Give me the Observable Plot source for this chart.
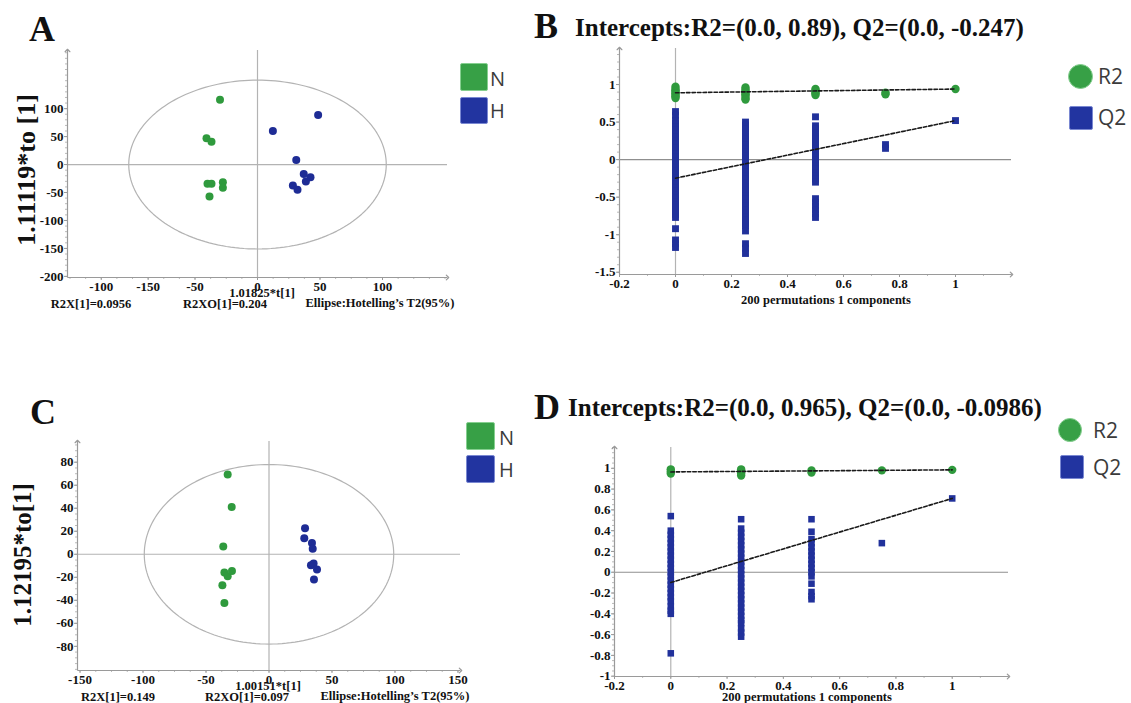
<!DOCTYPE html>
<html>
<head>
<meta charset="utf-8">
<script src="https://cdn.jsdelivr.net/npm/d3@7"></script>
<script src="https://cdn.jsdelivr.net/npm/@observablehq/plot@0.6"></script>
<style>
  html, body { margin: 0; padding: 0; background: #fff; }
  #fig { position: relative; width: 1131px; height: 703px; overflow: hidden; background: #fff;
         font-family: "Liberation Serif", "Times New Roman", serif; }
  .panel { position: absolute; }
  .panel svg { max-width: none !important; background: transparent !important; }
  .panel svg text { font-family: "Liberation Serif", "Times New Roman", serif !important; font-weight: bold !important;
         font-size: 13px !important; }
  .t { position: absolute; white-space: nowrap; font-weight: bold; color: #111; line-height: 1;
       transform: translate(-50%, -50%); }
  .tl { position: absolute; white-space: nowrap; font-weight: bold; color: #111; line-height: 1;
       transform: translate(0, -50%); }
  .rot { position: absolute; white-space: nowrap; font-weight: bold; color: #111; line-height: 1;
       transform: translate(-50%, -50%) rotate(-90deg); }
  .leg { position: absolute; white-space: nowrap; line-height: 1; color: #3b3b3b;
       font-family: "Open Sans", "Noto Sans", sans-serif; font-size: 20px; transform: translate(0, -50%); }
  .sw { position: absolute; box-sizing: border-box; border-radius: 2px; }
</style>
</head>
<body>
<div id="fig"></div>
<script>
// ---------------- data ----------------
const groups = ["N", "H"];
const groupColors = ["#2f9a3d", "#1e2c95"];

// Panel A scores (t[1], to[1])
const scoreA_N_t  = [-30, -40.8, -36.8, -40, -36.8, -27.7, -27.7, -38.4];
const scoreA_N_to = [116, 47, 41, -34.5, -34.5, -31.5, -41.7, -57];
const scoreA_H_t  = [48.5, 12.3, 31, 37, 42.4, 38.7, 28.3, 32];
const scoreA_H_to = [88.7, 60, 8.3, -16.7, -22.6, -30.4, -37.5, -45];
const ellipseA = [103, 151];            // Hotelling T2 semi-axes (t, to)
const xTicksA = [-125, -87.5, -50, 0, 50, 100];
const xTickLabelsA = ["-100", "-150", "-50", "0", "50", "100"];
const yTicksA = [-200, -150, -100, -50, 0, 50, 100];

// Panel C scores
const scoreC_N_t  = [-32.8, -29.6, -36.3, -35.4, -32.8, -29.4, -37, -35.4];
const scoreC_N_to = [69.3, 41.1, 6.7, -15.9, -19.1, -14.5, -27, -42.3];
const scoreC_H_t  = [28.6, 28, 34.1, 34.7, 33.3, 35.4, 38.1, 35.7];
const scoreC_H_to = [22.6, 13.9, 9.9, 4.9, -9.6, -8.1, -13.3, -22];
const ellipseC = [99, 78];
const xTicksC = [-150, -100, -50, 0, 50, 100, 150];
const xTickLabelsC = ["-150", "-100", "-50", "0", "50", "100", "150"];
const yTicksC = [-80, -60, -40, -20, 0, 20, 40, 60, 80];

// Permutation tests (200 permutations, 1 component)
const permX = [0, 0.25, 0.5, 0.75, 1];
const r2B = [
  [0.97, 0.94, 0.92, 0.9, 0.88, 0.86, 0.84, 0.82],
  [0.96, 0.93, 0.91, 0.89, 0.87, 0.85, 0.82, 0.8],
  [0.94, 0.92, 0.9, 0.88, 0.86],
  [0.89, 0.87],
  [0.94]
];
const q2B = [
  [0.64, 0.59, 0.52, 0.48, 0.43, 0.39, 0.34, 0.3, 0.25, 0.21, 0.16, 0.12, 0.07, 0.03, -0.02, -0.06, -0.11, -0.15,
   -0.2, -0.24, -0.29, -0.33, -0.38, -0.42, -0.47, -0.51, -0.56, -0.6, -0.65, -0.69, -0.73, -0.77, -0.92, -1.07, -1.12, -1.17],
  [0.5, 0.46, 0.41, 0.37, 0.32, 0.28, 0.23, 0.19, 0.14, 0.1, 0.05, 0.01, -0.04, -0.08, -0.13, -0.17, -0.22, -0.26,
   -0.31, -0.35, -0.4, -0.44, -0.49, -0.53, -0.58, -0.62, -0.67, -0.71, -0.76, -0.8, -0.85, -0.88, -0.95, -1.12, -1.18, -1.25],
  [0.57, 0.45, 0.41, 0.36, 0.32, 0.27, 0.23, 0.18, 0.14, 0.09, 0.05, 0.0, -0.04, -0.09, -0.13, -0.18, -0.22, -0.26, -0.3,
   -0.52, -0.57, -0.62, -0.67, -0.72, -0.77],
  [0.2, 0.15],
  [0.52]
];
const interceptsB = { R2: 0.89, Q2: -0.247 };
const yTicksB = [-1.5, -1, -0.5, 0, 0.5, 1];

const r2D = [
  [0.99, 0.97, 0.95],
  [0.99, 0.97, 0.95, 0.93],
  [0.98, 0.96],
  [0.98],
  [0.985]
];
const q2D = [
  [0.54, 0.4, 0.36, 0.32, 0.28, 0.24, 0.2, 0.16, 0.12, 0.08, 0.04, 0.0, -0.04, -0.08, -0.12, -0.16, -0.2, -0.24,
   -0.28, -0.33, -0.37, -0.4, -0.78],
  [0.51, 0.42, 0.38, 0.34, 0.3, 0.26, 0.22, 0.18, 0.14, 0.1, 0.06, 0.02, -0.02, -0.06, -0.1, -0.14, -0.18, -0.22,
   -0.26, -0.3, -0.34, -0.38, -0.42, -0.46, -0.49, -0.54, -0.58, -0.62],
  [0.51, 0.39, 0.32, 0.28, 0.24, 0.2, 0.16, 0.12, 0.08, 0.04, 0.0, -0.04, -0.11, -0.19, -0.23, -0.26],
  [0.28],
  [0.71]
];
const interceptsD = { R2: 0.965, Q2: -0.0986 };
const yTicksD = [-1, -0.8, -0.6, -0.4, -0.2, 0, 0.2, 0.4, 0.6, 0.8, 1];
const xTicksPerm = [-0.2, 0, 0.2, 0.4, 0.6, 0.8, 1];

const r2Color = "#2f9a3d";
const q2Color = "#21319b";

// ---------------- helpers ----------------
const fig = document.getElementById("fig");
const SERIF = '"Liberation Serif", "Times New Roman", serif';
const AXIS = "#9a9a9a";

function addPanel(svg, left, top, w, h) {
  const d = document.createElement("div");
  d.className = "panel";
  Object.assign(d.style, { left: left + "px", top: top + "px", width: w + "px", height: h + "px" });
  d.appendChild(svg);
  fig.appendChild(d);
}
function addText(text, x, y, cls, size, extra = {}) {
  const d = document.createElement("div");
  d.className = cls;
  d.textContent = text;
  Object.assign(d.style, { left: x + "px", top: y + "px", fontSize: size + "px" }, extra);
  fig.appendChild(d);
}
function addSwatch(x, y, w, h, fill, border, radius) {
  const d = document.createElement("div");
  d.className = "sw";
  Object.assign(d.style, { left: x + "px", top: y + "px", width: w + "px", height: h + "px",
    background: fill, border: "1.5px solid " + border, borderRadius: radius || "2px" });
  fig.appendChild(d);
}
const fmt = d => String(d);
function rangeTicks(lo, hi, step) { // positions for minor tick marks only
  const out = [];
  for (let i = Math.ceil(lo / step); i * step <= hi + 1e-9; i++) out.push(+(i * step).toFixed(6));
  return out;
}

function axesMarks(xDomain, yDomain, xTicks, xFormat, yTicks, xMinorStep, yMinorStep) {
  return [
    Plot.axisX({ ticks: rangeTicks(xDomain[0], xDomain[1], xMinorStep), tickSize: 2, fill: "none", label: null, stroke: "#bbb" }),
    Plot.axisY({ ticks: rangeTicks(yDomain[0], yDomain[1], yMinorStep), tickSize: 2, fill: "none", label: null, stroke: "#bbb" }),
    Plot.axisX({ ticks: xTicks, tickSize: 3, tickPadding: 1, tickFormat: xFormat, label: null, stroke: AXIS, fill: "#111" }),
    Plot.axisY({ ticks: yTicks, tickSize: 3, tickPadding: 1, tickFormat: fmt, label: null, stroke: AXIS, fill: "#111" }),
    Plot.link([xDomain], { x1: d => d[0], x2: d => d[1], y1: () => yDomain[0], y2: () => yDomain[0],
      stroke: AXIS, strokeWidth: 1.2, markerEnd: "arrow" }),
    Plot.link([yDomain], { x1: () => xDomain[0], x2: () => xDomain[0], y1: d => d[0], y2: d => d[1],
      stroke: AXIS, strokeWidth: 1.2, markerEnd: "arrow" })
  ];
}

function scorePlot(c) {
  const rows = [
    ...c.nT.map((t, i) => ({ t, to: c.nTo[i], group: "N" })),
    ...c.hT.map((t, i) => ({ t, to: c.hTo[i], group: "H" }))
  ];
  const ell = d3.range(0, 361, 2).map(a => ({
    t: c.ellipse[0] * Math.cos(a * Math.PI / 180),
    to: c.ellipse[1] * Math.sin(a * Math.PI / 180)
  }));
  return Plot.plot({
    width: c.w, height: c.h,
    marginTop: c.m[0], marginRight: c.m[1], marginBottom: c.m[2], marginLeft: c.m[3],
    x: { domain: c.xDomain }, y: { domain: c.yDomain },
    color: { domain: groups, range: groupColors },
    style: { fontFamily: SERIF, fontSize: "13px", fontWeight: "bold", color: "#111", background: "transparent", overflow: "visible" },
    marks: [
      Plot.ruleY([0], { stroke: "#b3b3b3", strokeWidth: 1.2 }),
      Plot.ruleX([0], { stroke: "#b3b3b3", strokeWidth: 1.2 }),
      Plot.line(ell, { x: "t", y: "to", stroke: "#b3b3b3", strokeWidth: 1.2 }),
      ...axesMarks(c.xDomain, c.yDomain, c.xTicks, d => c.xLabels[c.xTicks.indexOf(d)], c.yTicks, c.xMinor, c.yMinor),
      Plot.dot(rows, { x: "t", y: "to", fill: "group", r: 4 })
    ]
  });
}

function permPlot(c) {
  const r2Rows = [], q2Rows = [];
  permX.forEach((x, i) => {
    c.r2[i].forEach(y => r2Rows.push({ x, y }));
    c.q2[i].forEach(y => q2Rows.push({ x, y }));
  });
  const last = permX.length - 1;
  const r2Line = [{ x: 0, y: c.intercepts.R2 }, { x: 1, y: c.r2[last][0] }];
  const q2Line = [{ x: 0, y: c.intercepts.Q2 }, { x: 1, y: c.q2[last][0] }];
  return Plot.plot({
    width: c.w, height: c.h,
    marginTop: c.m[0], marginRight: c.m[1], marginBottom: c.m[2], marginLeft: c.m[3],
    x: { domain: c.xDomain }, y: { domain: c.yDomain },
    style: { fontFamily: SERIF, fontSize: "13px", fontWeight: "bold", color: "#111", background: "transparent", overflow: "visible" },
    marks: [
      Plot.ruleY([0], { stroke: "#8f8f8f", strokeWidth: 1.2 }),
      Plot.ruleX([0], { stroke: "#b3b3b3", strokeWidth: 1.2 }),
      ...axesMarks(c.xDomain, c.yDomain, xTicksPerm, fmt, c.yTicks, 0.1, c.yMinor),
      Plot.dot(q2Rows, { x: "x", y: "y", symbol: "square", fill: q2Color, r: c.sq }),
      Plot.dot(r2Rows, { x: "x", y: "y", fill: r2Color, r: 4.2 }),
      Plot.line(r2Line, { x: "x", y: "y", stroke: "#1a1a1a", strokeWidth: 1.6, strokeDasharray: "3.5,2" }),
      Plot.line(q2Line, { x: "x", y: "y", stroke: "#1a1a1a", strokeWidth: 1.6, strokeDasharray: "3.5,2" })
    ]
  });
}

// ---------------- panels ----------------
addPanel(scorePlot({
  w: 460, h: 320, m: [50, 13, 43, 67],
  xDomain: [-152, 152], yDomain: [-202, 204],
  xTicks: xTicksA, xLabels: xTickLabelsA, yTicks: yTicksA, xMinor: 12.5, yMinor: 10,
  nT: scoreA_N_t, nTo: scoreA_N_to, hT: scoreA_H_t, hTo: scoreA_H_to, ellipse: ellipseA
}), 0, 0, 460, 320);

addPanel(scorePlot({
  w: 470, h: 323, m: [61, 10, 33, 77],
  xDomain: [-152, 152], yDomain: [-101, 98],
  xTicks: xTicksC, xLabels: xTickLabelsC, yTicks: yTicksC, xMinor: 12.5, yMinor: 5,
  nT: scoreC_N_t, nTo: scoreC_N_to, hT: scoreC_H_t, hTo: scoreC_H_to, ellipse: ellipseC
}), 0, 380, 470, 323);

addPanel(permPlot({
  w: 470, h: 320, m: [48, 19, 46, 59],
  xDomain: [-0.2, 1.2], yDomain: [-1.53, 1.48], yTicks: yTicksB, yMinor: 0.1,
  r2: r2B, q2: q2B, intercepts: interceptsB, sq: 3.9
}), 560, 0, 470, 320);

addPanel(permPlot({
  w: 470, h: 323, m: [67, 22, 27, 54],
  xDomain: [-0.2, 1.2], yDomain: [-1.003, 1.2], yTicks: yTicksD, yMinor: 0.05,
  r2: r2D, q2: q2D, intercepts: interceptsD, sq: 3.7
}), 560, 380, 470, 323);

// ---------------- texts ----------------
addText("A", 42, 29, "t", 36);
addText("B", 546, 26, "t", 36);
addText("C", 43, 412, "t", 36);
addText("D", 547, 407, "t", 36);

addText("Intercepts:R2=(0.0, 0.89), Q2=(0.0, -0.247)", 575, 27, "tl", 25);
addText("Intercepts:R2=(0.0, 0.965), Q2=(0.0, -0.0986)", 568, 407, "tl", 25);

addText("1.11119*to [1]", 27, 170, "rot", 26);
addText("1.12195*to[1]", 22, 555, "rot", 25);

addText("R2X[1]=0.0956", 91, 304, "t", 12.5);
addText("1.01825*t[1]", 262, 293, "t", 12.5);
addText("R2XO[1]=0.204", 225, 304, "t", 12.5);
addText("Ellipse:Hotelling\u2019s T2(95%)", 380, 303, "t", 12.5);

addText("R2X[1]=0.149", 118, 697, "t", 12.5);
addText("1.00151*t[1]", 268, 686, "t", 12.5);
addText("R2XO[1]=0.097", 247, 697, "t", 12.5);
addText("Ellipse:Hotelling\u2019s T2(95%)", 395, 696, "t", 12.5);

addText("200 permutations 1 components", 826, 300, "t", 12.5);
addText("200 permutations 1 components", 807, 697, "t", 12.5);

// ---------------- legends ----------------
const legGreen = "#37a046", legGreenB = "#86cf90", legBlue = "#2234a0", legBlueB = "#7a88d2";
addSwatch(460, 63, 28, 28, legGreen, legGreenB);
addSwatch(460, 97, 28, 27, legBlue, legBlueB);
addText(groups[0], 490, 79, "leg", 20);
addText(groups[1], 490, 111, "leg", 20);

addSwatch(466, 422, 29, 28, legGreen, legGreenB);
addSwatch(466, 455, 29, 28, legBlue, legBlueB);
addText(groups[0], 499, 438, "leg", 20);
addText(groups[1], 499, 470, "leg", 20);

addSwatch(1068, 64, 25, 25, legGreen, legGreenB, "50%");
addSwatch(1069, 106, 24, 24, legBlue, legBlueB);
addText("R2", 1098, 76, "leg", 21);
addText("Q2", 1098, 117, "leg", 21);

addSwatch(1058, 418, 24, 24, legGreen, legGreenB, "50%");
addSwatch(1060, 455, 24, 24, legBlue, legBlueB);
addText("R2", 1093, 430, "leg", 21);
addText("Q2", 1093, 467, "leg", 21);
</script>
</body>
</html>
